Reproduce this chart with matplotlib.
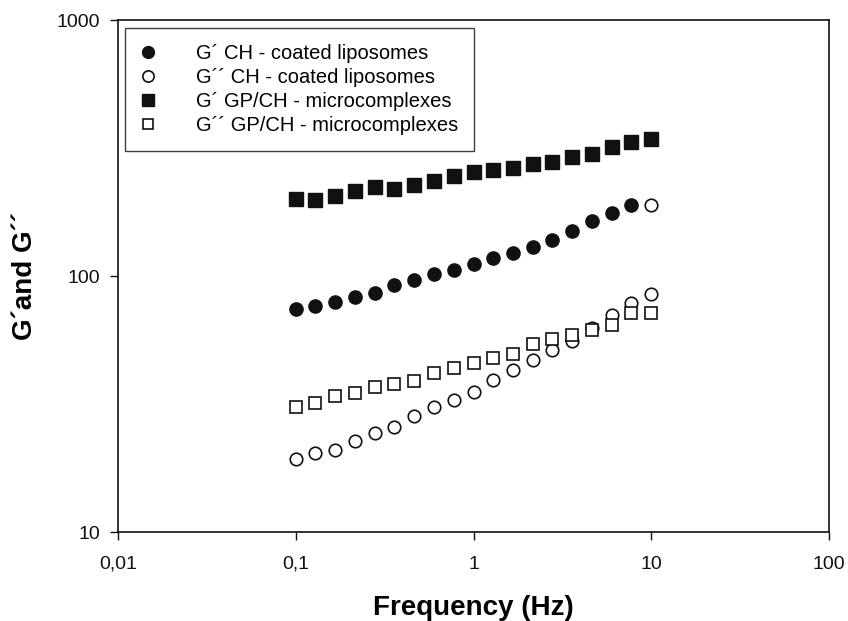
import matplotlib

matplotlib.use("Agg")
import matplotlib.pyplot as plt  # noqa: E402
import numpy as np  # noqa: E402
from matplotlib.ticker import FixedLocator, FixedFormatter, NullLocator  # noqa: E402

plt.rcParams.update({"font.family": ["Liberation Sans", "DejaVu Sans"]})

# frequency sweep, 19 points log-spaced from 0.1 to 10 Hz
freq = [0.1, 0.129, 0.167, 0.215, 0.278, 0.359, 0.464, 0.599, 0.774, 1.0,
        1.29, 1.67, 2.15, 2.78, 3.59, 4.64, 5.99, 7.74, 10.0]

g1_ch = [74.6, 76.8, 79.6, 83.3, 86.5, 92.4, 96.6, 102, 106, 111.5,
         117.7, 123.7, 130.2, 138.2, 150.2, 164.3, 177, 190.8]
g2_ch = [19.3, 20.5, 21.0, 22.8, 24.4, 25.7, 28.6, 30.9, 33.0, 35.4,
         39.3, 43.0, 47.0, 51.4, 55.8, 62.9, 70.9, 78.7, 85.3]
g1_gp = [201, 199, 207, 216, 223, 219, 228, 235, 246, 255,
         261, 266, 274, 281, 293, 302, 320, 334, 344]
g2_gp = [30.9, 32.1, 34.0, 35.1, 37.0, 37.9, 38.9, 41.9, 44.0, 45.9,
         48.1, 49.9, 54.2, 57.0, 59.1, 61.8, 64.8, 71.7, 71.9]

labels = ["G\u00b4 CH - coated liposomes", "G\u00b4\u00b4 CH - coated liposomes",
          "G\u00b4 GP/CH - microcomplexes", "G\u00b4\u00b4 GP/CH - microcomplexes"]

x_ticks = [0.01, 0.1, 1, 10, 100]
x_ticklabels = ["0,01", "0,1", "1", "10", "100"]
y_ticks = [10, 100, 1000]
y_ticklabels = ["10", "100", "1000"]

INK = "#111111"

fig = plt.figure(figsize=(8.48, 6.21), dpi=100)
ax = fig.add_axes([0.1392, 0.1428, 0.8384, 0.8242])

f = np.array(freq)
n1 = len(g1_ch)
ax.plot(f[:n1], g1_ch, "o", ms=9.5, color=INK, label=labels[0])
ax.plot(f, g2_ch, "o", ms=9, mfc="white", mec=INK, mew=1.2, label=labels[1])
ax.plot(f, g1_gp, "s", ms=9.5, color=INK, label=labels[2])
ax.plot(f, g2_gp, "s", ms=8.5, mfc="white", mec=INK, mew=1.2, label=labels[3])
# the last CH point at 10 Hz was drawn as an open circle in the original
ax.plot([f[-1]], [190.8], "o", ms=9, mfc="white", mec=INK, mew=1.2)

ax.set_xscale("log")
ax.set_yscale("log")
ax.set_xlim(0.01, 100)
ax.set_ylim(10, 1000)
ax.xaxis.set_major_locator(FixedLocator(x_ticks))
ax.xaxis.set_major_formatter(FixedFormatter(x_ticklabels))
ax.yaxis.set_major_locator(FixedLocator(y_ticks))
ax.yaxis.set_major_formatter(FixedFormatter(y_ticklabels))
ax.xaxis.set_minor_locator(NullLocator())
ax.yaxis.set_minor_locator(NullLocator())
ax.tick_params(direction="out", length=6, width=1, labelsize=14, colors=INK)
ax.tick_params(axis="x", pad=11)
ax.tick_params(axis="y", pad=7)
for s in ax.spines.values():
    s.set_linewidth(1.2)
    s.set_color(INK)

ax.set_xlabel("Frequency (Hz)", fontsize=20, fontweight="bold", labelpad=16)
ax.set_ylabel("G\u00b4and G\u00b4\u00b4", fontsize=20, fontweight="bold", labelpad=13)

leg = ax.legend(loc="upper left", fontsize=14.5, markerscale=0.9, frameon=True,
                fancybox=False, edgecolor=INK, borderaxespad=0.37,
                handlelength=0.6, handletextpad=2.1, labelspacing=0.25,
                borderpad=0.8)
leg.get_frame().set_linewidth(1.0)

fig.savefig("out.png", dpi=100)
